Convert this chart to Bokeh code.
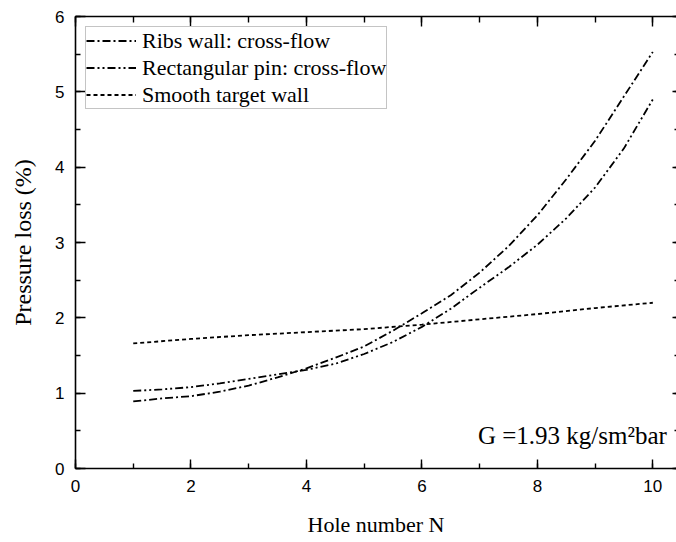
from bokeh.plotting import figure
from bokeh.models import (Range1d, LinearAxis, SingleIntervalTicker, Legend,
                          LegendItem, Label, CustomJSTickFormatter)
from bokeh.embed import file_html
from bokeh.resources import INLINE

# Hole number N, sampled every half step along the fitted curves
curve_n = [1, 1.5, 2, 2.5, 3, 3.5, 4, 4.5, 5, 5.5,
           6, 6.5, 7, 7.5, 8, 8.5, 9, 9.5, 10]
# Pressure loss (%) along each curve
ribs_cross = [0.89, 0.93, 0.96, 1.02, 1.10, 1.21, 1.33, 1.47, 1.62, 1.83,
              2.06, 2.30, 2.60, 2.95, 3.36, 3.84, 4.35, 4.94, 5.53]
pin_cross = [1.03, 1.05, 1.08, 1.13, 1.19, 1.25, 1.31, 1.39, 1.52, 1.68,
             1.88, 2.12, 2.40, 2.67, 2.97, 3.32, 3.73, 4.25, 4.90]
# Smooth wall is almost straight: one value per hole
holes = [1, 2, 3, 4, 5, 6, 7, 8, 9, 10]
smooth_wall = [1.66, 1.72, 1.77, 1.81, 1.85, 1.91, 1.98, 2.05, 2.13, 2.20]

series_names = ["Ribs wall: cross-flow", "Rectangular pin: cross-flow",
                "Smooth target wall"]
x_title = "Hole number N"
y_title = "Pressure loss (%)"
note_text = "G =1.93 kg/sm\u00b2bar"

SERIF = "Liberation Serif"
SANS = "Liberation Sans"

p = figure(width=676, height=542, output_backend="svg", toolbar_location=None,
           x_range=Range1d(0, 10.41), y_range=Range1d(0, 6),
           min_border_left=75, min_border_right=0,
           min_border_top=16, min_border_bottom=74)
p.grid.visible = False
p.outline_line_color = None
p.background_fill_color = "white"

blank = CustomJSTickFormatter(code="return ''")


def style_axis(ax, show_labels, major_in, minor_in):
    ax.axis_line_color = "black"
    ax.axis_line_width = 1.6
    ax.major_tick_line_color = "black"
    ax.minor_tick_line_color = "black"
    ax.major_tick_line_width = 1.4
    ax.minor_tick_line_width = 1.4
    ax.major_tick_in = major_in
    ax.major_tick_out = 0
    ax.minor_tick_in = minor_in
    ax.minor_tick_out = 0
    if show_labels:
        ax.major_label_text_font = SANS
        ax.major_label_text_font_size = "17px"
        ax.major_label_text_color = "black"
        ax.major_label_standoff = 11
        ax.axis_label_text_font = SERIF
        ax.axis_label_text_font_size = "22px"
        ax.axis_label_text_font_style = "normal"
        ax.axis_label_text_color = "black"
        ax.axis_label_standoff = 17
    else:
        ax.formatter = blank
        ax.major_label_standoff = 0


xax = p.xaxis[0]
xax.ticker = SingleIntervalTicker(interval=2, num_minor_ticks=2)
xax.axis_label = x_title
style_axis(xax, True, 9, 5)

yax = p.yaxis[0]
yax.ticker = SingleIntervalTicker(interval=1, num_minor_ticks=2)
yax.axis_label = y_title
style_axis(yax, True, 10, 5)
yax.axis_label_text_font_size = "24px"
yax.axis_label_standoff = 16

top = LinearAxis(ticker=SingleIntervalTicker(interval=2, num_minor_ticks=2))
style_axis(top, False, 10, 6)
p.add_layout(top, "above")

right = LinearAxis(ticker=SingleIntervalTicker(interval=1, num_minor_ticks=2))
style_axis(right, False, 4, 2)
right.axis_line_color = None
p.add_layout(right, "right")

r1 = p.line(curve_n, ribs_cross, line_color="black", line_width=1.8,
            line_dash="8 3 2 3")
r2 = p.line(curve_n, pin_cross, line_color="black", line_width=1.8,
            line_dash="8 3 2 3 2 3")
r3 = p.line(holes, smooth_wall, line_color="black", line_width=1.8,
            line_dash="4 3")

legend = Legend(items=[LegendItem(label=series_names[0], renderers=[r1]),
                       LegendItem(label=series_names[1], renderers=[r2]),
                       LegendItem(label=series_names[2], renderers=[r3])],
                location="top_left")
legend.label_text_font = SERIF
legend.label_text_font_size = "22px"
legend.label_text_color = "black"
legend.border_line_color = "#8a8a8a"
legend.border_line_width = 1.2
legend.background_fill_color = "white"
legend.background_fill_alpha = 1
legend.glyph_width = 50
legend.glyph_height = 27
legend.label_height = 27
legend.label_standoff = 6
legend.padding = 0
legend.spacing = 0
legend.margin = 10
p.add_layout(legend)

note = Label(x=6.97, y=0.44, text=note_text, text_font=SERIF,
             text_font_size="25px", text_color="black",
             text_baseline="alphabetic")
p.add_layout(note)

open("out.html", "w").write(file_html(p, INLINE))
